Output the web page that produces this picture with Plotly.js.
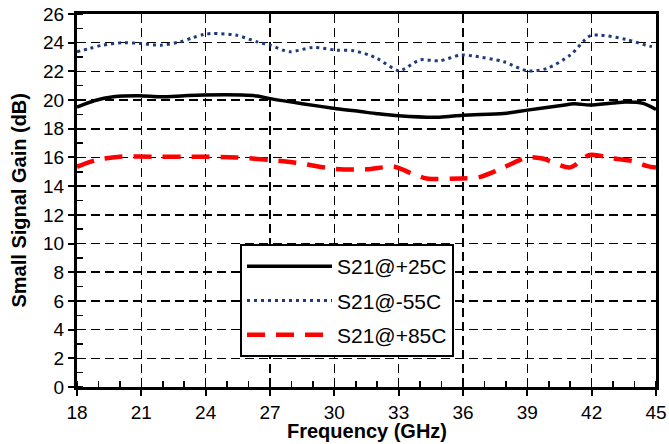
<!DOCTYPE html>
<html>
<head>
<meta charset="utf-8">
<script src="https://cdn.plot.ly/plotly-3.0.1.min.js"></script>
<style>html,body{margin:0;padding:0;background:#fff;}#chart{width:669px;height:444px;}</style>
</head>
<body>
<div id="chart"></div>
<script>
const f25 = [18, 18.8, 19.7, 20.9, 21.9, 23, 23.9, 25.7, 26.4, 27, 28.5, 30.1, 31.2, 32, 33, 34.9, 36, 37.9, 39, 40.5, 41.2, 41.9, 43, 43.6, 44.4, 45];
const g25 = [19.5, 19.95, 20.23, 20.3, 20.23, 20.3, 20.35, 20.35, 20.28, 20.1, 19.75, 19.4, 19.2, 19.05, 18.9, 18.8, 18.95, 19.07, 19.3, 19.6, 19.75, 19.65, 19.8, 19.86, 19.77, 19.35];

const fM55 = [18, 18.6, 19.2, 20.2, 20.9, 21.9, 22.8, 23.4, 23.9, 24.3, 25.4, 26.4, 27, 27.9, 29, 30.1, 30.9, 31.6, 32, 33, 33.3, 34, 34.9, 35.9, 36.5, 37.9, 39, 39.9, 41, 41.9, 42.4, 43.6, 44.7, 45];
const gM55 = [23.37, 23.6, 23.83, 24.0, 23.95, 23.83, 24.06, 24.35, 24.57, 24.64, 24.53, 24.06, 23.83, 23.37, 23.67, 23.48, 23.44, 23.15, 22.9, 22.04, 22.2, 22.8, 22.74, 23.14, 23.07, 22.67, 22.04, 22.2, 23.14, 24.46, 24.53, 24.23, 23.76, 23.7];

const f85 = [18, 18.9, 20, 21.5, 23.9, 25.4, 27, 28.2, 30.1, 31.5, 32.8, 33.6, 34.3, 35.9, 36.8, 37.7, 39, 39.7, 41, 41.9, 43, 43.9, 44.6, 45];
const g85 = [15.35, 15.82, 16.05, 16.05, 16.05, 16.0, 15.82, 15.63, 15.19, 15.17, 15.35, 14.89, 14.54, 14.54, 14.65, 15.17, 16.0, 15.93, 15.31, 16.17, 15.93, 15.75, 15.4, 15.3];

const seriesNames = ['S21@+25C', 'S21@-55C', 'S21@+85C'];
const xTicks = [18, 21, 24, 27, 30, 33, 36, 39, 42, 45];
const yTicks = [0, 2, 4, 6, 8, 10, 12, 14, 16, 18, 20, 22, 24, 26];

const traces = [
  {x: f25, y: g25, name: seriesNames[0], legendgroup: 'a', mode: 'lines',
   line: {color: '#000000', width: 3.5, shape: 'spline', smoothing: 0.8}},
  {x: fM55, y: gM55, name: seriesNames[1], legendgroup: 'b', mode: 'lines',
   line: {color: '#1f3a7a', width: 3, dash: '3px,4px', shape: 'spline', smoothing: 0.8}},
  {x: f85, y: g85, name: seriesNames[2], legendgroup: 'c', mode: 'lines',
   line: {color: '#ff0000', width: 4.5, dash: '18px,11px', shape: 'spline', smoothing: 0.8}}
];

const font = 'Liberation Sans, Arial, sans-serif';
const layout = {
  width: 669, height: 444,
  margin: {l: 77, r: 13, t: 14, b: 57},
  paper_bgcolor: '#ffffff', plot_bgcolor: '#ffffff',
  font: {family: font, color: '#000000', size: 18},
  showlegend: true,
  legend: {
    x: 0.2815, y: 0.3834, xanchor: 'left', yanchor: 'top',
    bgcolor: '#ffffff', bordercolor: '#000000', borderwidth: 2,
    font: {family: font, size: 21, color: '#000000'},
    traceorder: 'grouped', tracegroupgap: 4,
    itemwidth: 85
  },
  xaxis: {
    range: [18, 45], tickvals: xTicks, ticktext: xTicks.map(String),
    showgrid: true, gridcolor: '#000000', gridwidth: 1.5, griddash: '9px,5px',
    showline: true, linecolor: '#000000', linewidth: 3, mirror: true,
    ticks: 'outside', ticklen: 6, tickwidth: 2, tickcolor: '#000000',
    tickfont: {family: font, size: 19},
    minor: {dtick: 1, tick0: 18, ticks: 'inside', ticklen: 6, tickwidth: 1.5, tickcolor: '#000000', showgrid: false},
    zeroline: false, fixedrange: true
  },
  yaxis: {
    range: [0, 26], tickvals: yTicks, ticktext: yTicks.map(String),
    showgrid: true, gridcolor: '#000000', gridwidth: 1.5, griddash: '9px,5px',
    showline: true, linecolor: '#000000', linewidth: 3, mirror: true,
    ticks: 'outside', ticklen: 6, tickwidth: 2, tickcolor: '#000000',
    tickfont: {family: font, size: 19},
    minor: {dtick: 1, tick0: 0, ticks: 'inside', ticklen: 6, tickwidth: 1.5, tickcolor: '#000000', showgrid: false},
    zeroline: false, fixedrange: true
  },
  annotations: [
    {text: '<b>Frequency (GHz)</b>', xref: 'paper', yref: 'paper', x: 0.5, y: 0,
     xanchor: 'center', yanchor: 'middle', yshift: -44, showarrow: false,
     font: {family: font, size: 20, color: '#000000'}},
    {text: '<b>Small Signal Gain (dB)</b>', xref: 'paper', yref: 'paper', x: 0, y: 0.5,
     xanchor: 'center', yanchor: 'middle', xshift: -59, textangle: -90, showarrow: false,
     font: {family: font, size: 20, color: '#000000'}}
  ]
};

Plotly.newPlot('chart', traces, layout, {displayModeBar: false, staticPlot: true});
</script>
</body>
</html>
